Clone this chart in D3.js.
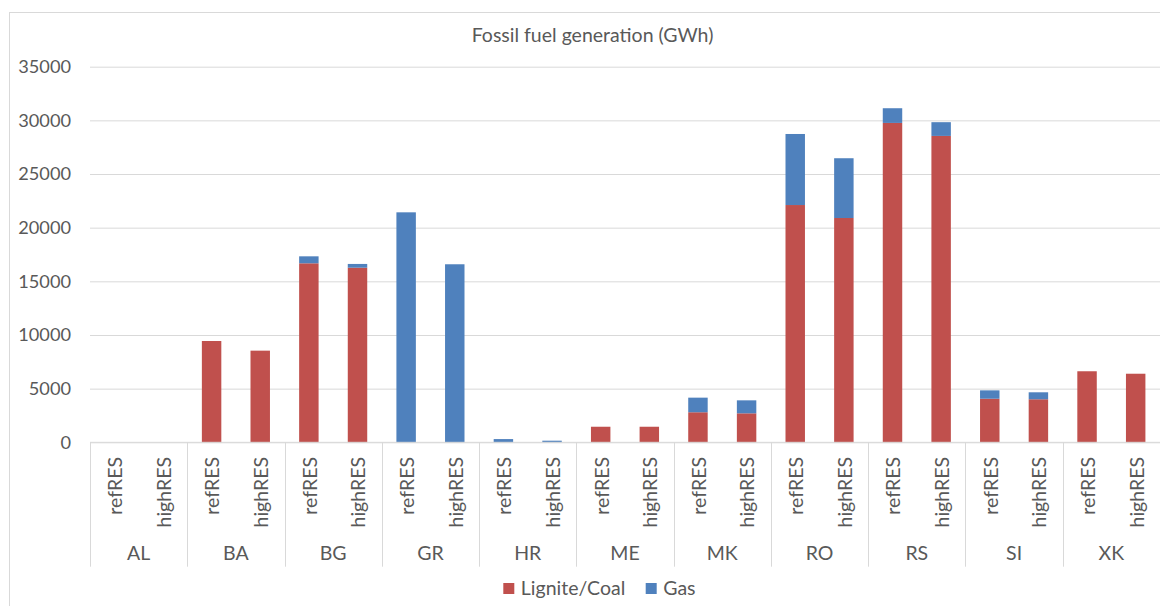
<!DOCTYPE html>
<html>
<head>
<meta charset="utf-8">
<script src="https://cdn.jsdelivr.net/npm/d3@7"></script>
<style>
  body { margin: 0; background: #fff; }
  svg text { font-family: Lato, "Open Sans", sans-serif; fill: #595959; }
</style>
</head>
<body>
<div id="chart"></div>
<script>
// data (GWh)
var countries = ["AL", "BA", "BG", "GR", "HR", "ME", "MK", "RO", "RS", "SI", "XK"];
var scenarios = ["refRES", "highRES"];
var seriesNames = ["Lignite/Coal", "Gas"];
var ligniteRef  = [0, 9440, 16680, 0, 0, 1450, 2800, 22110, 29760, 4060, 6620];
var ligniteHigh = [0, 8540, 16270, 0, 0, 1450, 2700, 20900, 28550, 4010, 6390];
var gasRef  = [0, 0, 650, 21430, 300, 0, 1360, 6620, 1370, 780, 0];
var gasHigh = [0, 0, 350, 16590, 150, 0, 1210, 5570, 1280, 650, 0];
var yTicks = [0, 5000, 10000, 15000, 20000, 25000, 30000, 35000];
var colors = ["#C0504D", "#4F81BD"];

var W = 1160, H = 606;
var plotLeft = 90, plotRight = 1160, plotTop = 66.7, plotBottom = 442.3;

var svg = d3.select("#chart").append("svg")
  .attr("width", W).attr("height", H);

// chart border (right/bottom run off the picture)
svg.append("rect")
  .attr("x", 9.5).attr("y", 12.5)
  .attr("width", 1170).attr("height", 610)
  .attr("fill", "none").attr("stroke", "#D9D9D9");

// rows for the stack, one per country/scenario pair
var rows = [];
countries.forEach(function (c, i) {
  rows.push({ country: c, scen: "refRES", lignite: ligniteRef[i], gas: gasRef[i] });
  rows.push({ country: c, scen: "highRES", lignite: ligniteHigh[i], gas: gasHigh[i] });
});

var x0 = d3.scaleBand().domain(countries).range([plotLeft, plotRight]);
var x1 = d3.scaleBand().domain(scenarios).range([0, x0.bandwidth()])
  .paddingInner(0.6).paddingOuter(0.3);
var y = d3.scaleLinear().domain([0, 35000]).range([plotBottom, plotTop]);

// gridlines + tick labels
var yAxis = d3.axisLeft(y).tickValues(yTicks)
  .tickSize(-(plotRight - plotLeft)).tickPadding(19).tickFormat(d3.format("d"));
var gy = svg.append("g").attr("transform", "translate(" + plotLeft + ",0)").call(yAxis);
gy.select(".domain").remove();
gy.selectAll(".tick line").attr("stroke", "#D9D9D9");
gy.selectAll(".tick text").style("font-size", "18.2px").attr("fill", "#595959");

// stacked bars
var stack = d3.stack().keys(["lignite", "gas"]);
var layers = stack(rows);
svg.selectAll(".layer")
  .data(layers)
  .enter().append("g")
    .attr("class", "layer")
    .attr("fill", function (d, i) { return colors[i]; })
  .selectAll("rect")
  .data(function (d) { return d; })
  .enter().append("rect")
    .attr("x", function (d) { return x0(d.data.country) + x1(d.data.scen); })
    .attr("width", x1.bandwidth())
    .attr("y", function (d) { return y(d[1]); })
    .attr("height", function (d) { return y(d[0]) - y(d[1]); });

// category axis line
svg.append("line")
  .attr("x1", plotLeft).attr("x2", plotRight)
  .attr("y1", plotBottom).attr("y2", plotBottom)
  .attr("stroke", "#D9D9D9");

// group separators
var bounds = countries.map(function (c) { return x0(c); }).concat([plotRight]);
svg.selectAll(".sep")
  .data(bounds)
  .enter().append("line")
    .attr("class", "sep")
    .attr("x1", function (d) { return Math.round(d) + 0.5; })
    .attr("x2", function (d) { return Math.round(d) + 0.5; })
    .attr("y1", plotBottom).attr("y2", 566.7)
    .attr("stroke", "#D9D9D9");

// inner labels (scenario), rotated
svg.selectAll(".scen")
  .data(rows)
  .enter().append("text")
    .attr("class", "scen")
    .attr("transform", function (d) {
      var cx = x0(d.country) + x1(d.scen) + x1.bandwidth() / 2 + 1;
      return "translate(" + cx + ",457) rotate(-90)";
    })
    .attr("dy", "0.35em")
    .style("text-anchor", "end")
    .style("font-size", "19.5px")
    .text(function (d) { return d.scen; });

// outer labels (country)
svg.selectAll(".country")
  .data(countries)
  .enter().append("text")
    .attr("class", "country")
    .attr("x", function (d) { return x0(d) + x0.bandwidth() / 2; })
    .attr("y", 560)
    .style("text-anchor", "middle")
    .style("font-size", "19.5px")
    .text(function (d) { return d; });

// title
svg.append("text")
  .attr("x", 592.5).attr("y", 41.5)
  .style("text-anchor", "middle")
  .style("font-size", "19.5px")
  .text("Fossil fuel generation (GWh)");

// legend
var legendX = [503.3, 645.7];
var legend = svg.selectAll(".legend")
  .data(seriesNames)
  .enter().append("g")
    .attr("class", "legend")
    .attr("transform", function (d, i) { return "translate(" + legendX[i] + ",583)"; });
legend.append("rect")
  .attr("width", 11).attr("height", 11)
  .attr("fill", function (d, i) { return colors[i]; });
legend.append("text")
  .attr("x", 17.5).attr("y", 11.5)
  .style("font-size", "19.5px")
  .text(function (d) { return d; });
</script>
</body>
</html>
